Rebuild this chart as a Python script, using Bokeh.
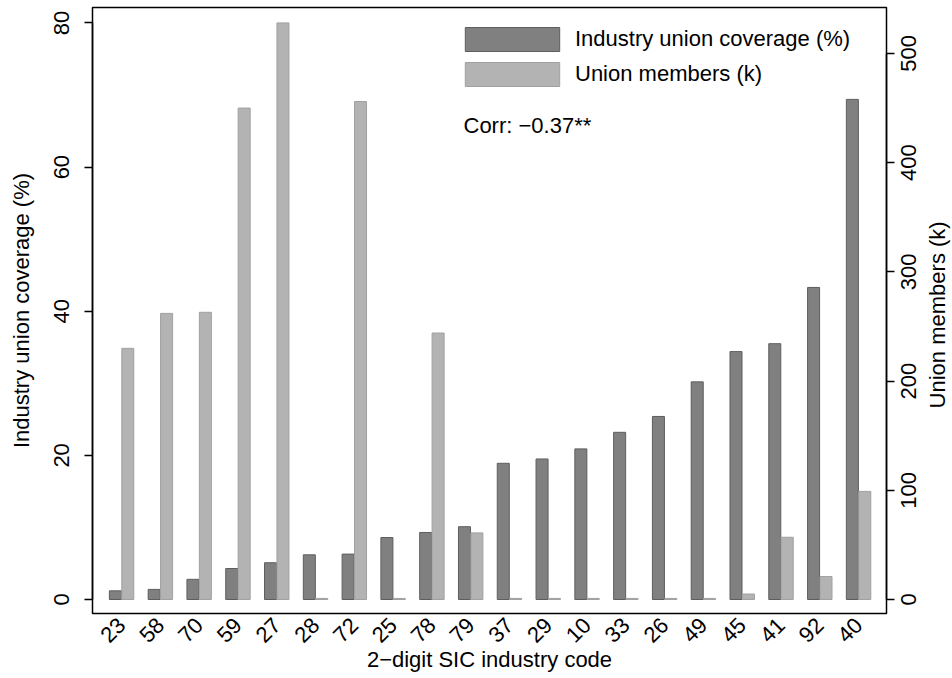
import math
from bokeh.plotting import figure
from bokeh.layouts import row
from bokeh.models import (Range1d, LinearAxis, FixedTicker, Legend, LegendItem,
                          Label, ColumnDataSource)
from bokeh.core.properties import value
from bokeh.transform import dodge
from bokeh.embed import file_html
from bokeh.resources import INLINE

# ---- data ----
sic_codes = ["23", "58", "70", "59", "27", "28", "72", "25", "78", "79",
             "37", "29", "10", "33", "26", "49", "45", "41", "92", "40"]
coverage_pct = [1.2, 1.4, 2.8, 4.3, 5.1, 6.2, 6.3, 8.6, 9.3, 10.1,
                18.9, 19.5, 20.9, 23.2, 25.4, 30.2, 34.4, 35.5, 43.3, 69.4]
members_k = [230, 262, 263, 450, 528, 1, 456, 1, 244, 61,
             1, 1, 1, 1, 1, 1, 5, 57, 21, 99]
left_ticks = [0, 20, 40, 60, 80]
right_ticks = [0, 100, 200, 300, 400, 500]
legend_labels = ["Industry union coverage (%)", "Union members (k)"]
corr_text = "Corr: \u22120.37**"
x_title = "2\u2212digit SIC industry code"
left_title = "Industry union coverage (%)"
right_title = "Union members (k)"

FONT = "Liberation Sans"
FS = "22px"

idx = list(range(len(sic_codes)))
src = ColumnDataSource(data=dict(i=idx, cov=coverage_pct, mem=members_k))

W, H = 952, 678
FL, FR, FT, FB = 92, 886, 7, 613   # frame edges in canvas pixels
W1 = FR + 9                         # main figure width (ends after right ticks)
right_range = (-12.82, 542.1)

p = figure(width=W1, height=H, output_backend="svg", toolbar_location=None,
           x_range=Range1d(-0.75, 19.72), y_range=Range1d(-1.943, 82.15),
           min_border_left=FL, min_border_right=W1 - FR, min_border_top=FT,
           min_border_bottom=H - FB)
p.extra_y_ranges = {"right": Range1d(*right_range)}

p.xgrid.visible = False
p.ygrid.visible = False
p.outline_line_color = "black"
p.outline_line_width = 1.5
p.background_fill_color = "white"
p.border_fill_color = "white"

r1 = p.vbar(x=dodge("i", -0.16), top="cov", bottom=0, width=0.31, source=src,
            fill_color="#808080", line_color="#5e5e5e", line_width=1)
r2 = p.vbar(x=dodge("i", 0.16), top="mem", bottom=0, width=0.31, source=src,
            y_range_name="right",
            fill_color="#b3b3b3", line_color="#a0a0a0", line_width=1)

# bottom axis
xa = p.xaxis[0]
xa.ticker = FixedTicker(ticks=idx)
xa.major_label_overrides = {i: c for i, c in zip(idx, sic_codes)}
xa.major_label_orientation = math.pi / 4
xa.major_tick_line_color = None
xa.minor_tick_line_color = None
xa.axis_line_color = None
xa.major_label_text_font = FONT
xa.major_label_text_font_size = FS
xa.major_label_text_color = "black"
xa.major_label_standoff = 2
xa.axis_label = x_title
xa.axis_label_text_font = FONT
xa.axis_label_text_font_size = FS
xa.axis_label_text_font_style = "normal"
xa.axis_label_text_color = "black"
xa.axis_label_standoff = -5

# left axis
ya = p.yaxis[0]
ya.ticker = FixedTicker(ticks=left_ticks)
ya.bounds = (left_ticks[0], left_ticks[-1])
ya.major_label_orientation = "vertical"
ya.major_tick_out = 8
ya.major_tick_in = 0
ya.major_tick_line_width = 1.5
ya.axis_line_width = 1.5
ya.minor_tick_line_color = None
ya.major_label_text_font = FONT
ya.major_label_text_font_size = FS
ya.major_label_text_color = "black"
ya.major_label_standoff = 15
ya.axis_label = left_title
ya.axis_label_text_font = FONT
ya.axis_label_text_font_size = FS
ya.axis_label_text_font_style = "normal"
ya.axis_label_text_color = "black"
ya.axis_label_standoff = 18

# right axis: line and ticks here; its centred bottom-to-top labels and title
# are drawn in the narrow strip figure beside it (same vertical scale)
ra = LinearAxis(y_range_name="right", ticker=FixedTicker(ticks=right_ticks),
                bounds=(right_ticks[0], right_ticks[-1]))
ra.major_tick_out = 8
ra.major_tick_in = 0
ra.major_tick_line_width = 1.5
ra.axis_line_width = 1.5
ra.minor_tick_line_color = None
ra.major_label_text_color = None
ra.major_label_standoff = 0
p.add_layout(ra, "right")

# legend (location = bottom-left corner, screen px from frame bottom-left);
# bar legend glyphs are drawn inset by 10% of the glyph box on each side
legend = Legend(items=[LegendItem(label=legend_labels[0], renderers=[r1]),
                       LegendItem(label=legend_labels[1], renderers=[r2])],
                location=(361, 524), glyph_width=118, glyph_height=30,
                label_height=30, label_standoff=4, spacing=5, padding=0,
                margin=0, border_line_color=None, background_fill_alpha=0,
                label_text_font=FONT, label_text_font_size=FS,
                label_text_color="black")
p.add_layout(legend)

p.add_layout(Label(x=371, y=488, x_units="screen", y_units="screen",
                   text=corr_text, text_align="left", text_baseline="middle",
                   text_font=FONT, text_font_size=FS, text_color="black"))

# ---- strip for the right axis labels / title ----
W2 = W - W1
p2 = figure(width=W2, height=H, output_backend="svg", toolbar_location=None,
            x_range=Range1d(W1, W), y_range=Range1d(*right_range),
            x_axis_type=None, y_axis_type=None,
            min_border_left=0, min_border_right=0, min_border_top=FT,
            min_border_bottom=H - FB)
p2.xgrid.visible = False
p2.ygrid.visible = False
p2.outline_line_color = None
p2.background_fill_color = "white"
p2.border_fill_color = "white"

tick_src = ColumnDataSource(data=dict(y=right_ticks,
                                      t=[str(v) for v in right_ticks],
                                      x=[FR + 22] * len(right_ticks)))
p2.text(x="x", y="y", text="t", source=tick_src, angle=math.pi / 2,
        text_align="center", text_baseline="middle",
        text_font=value(FONT), text_font_size=FS, text_color="black")
p2.text(x=[FR + 51], y=[(right_range[0] + right_range[1]) / 2 - 4],
        text=[right_title], angle=math.pi / 2,
        text_align="center", text_baseline="middle",
        text_font=value(FONT), text_font_size=FS, text_color="black")

layout = row(p, p2, spacing=0)
open("out.html", "w").write(file_html(layout, INLINE))
